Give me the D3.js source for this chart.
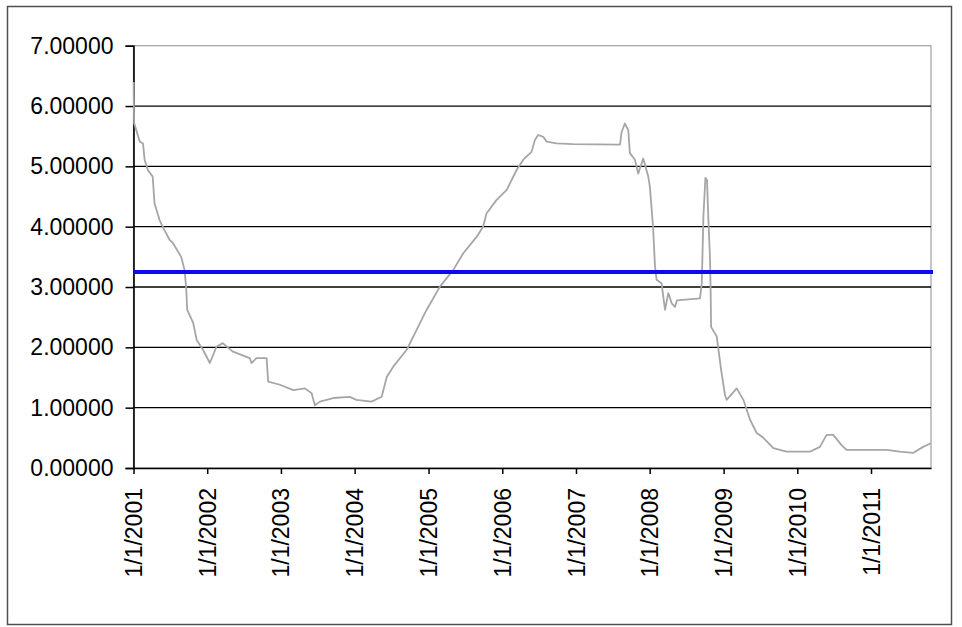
<!DOCTYPE html>
<html>
<head>
<meta charset="utf-8">
<script src="https://cdn.jsdelivr.net/npm/d3@7"></script>
<style>
  html, body { margin: 0; padding: 0; background: #fff; }
  svg { display: block; }
  text { font-family: Arial, "Liberation Sans", sans-serif; fill: #000; }
</style>
</head>
<body>
<svg id="chart" width="962" height="627"></svg>
<script>
// ---- data ----
const dates = [
  "2001-01-02","2001-01-03","2001-01-04","2001-02-01","2001-02-17","2001-02-25","2001-03-13","2001-04-06",
  "2001-04-15","2001-05-10","2001-06-04","2001-06-29","2001-07-15","2001-08-25","2001-09-11","2001-09-19",
  "2001-09-24","2001-10-24","2001-11-10","2001-12-11","2002-01-14","2002-02-16","2002-03-19","2002-05-08",
  "2002-07-31","2002-08-08","2002-09-02","2002-10-22","2002-10-30","2002-12-27","2003-03-03","2003-04-30",
  "2003-06-02","2003-06-18","2003-07-13","2003-09-17","2003-12-08","2004-01-10","2004-03-25","2004-05-14",
  "2004-06-08","2004-07-10","2004-09-15","2004-11-03","2004-12-22","2005-02-27","2005-05-03","2005-06-22",
  "2005-08-27","2005-09-28","2005-10-15","2005-12-03","2006-01-23","2006-03-13","2006-04-15","2006-05-26",
  "2006-06-12","2006-06-28","2006-07-23","2006-08-09","2006-09-27","2006-12-18","2007-08-07","2007-08-15",
  "2007-08-31","2007-09-17","2007-09-25","2007-10-20","2007-11-05","2007-11-30","2007-12-25","2008-01-02",
  "2008-01-18","2008-01-27","2008-02-04","2008-02-29","2008-03-17","2008-04-02","2008-04-19","2008-05-05",
  "2008-05-15","2008-09-06","2008-09-15","2008-09-23","2008-10-03","2008-10-11","2008-10-17","2008-10-26",
  "2008-10-29","2008-10-31","2008-11-28","2008-12-20","2009-01-08","2009-01-16","2009-03-07","2009-04-09",
  "2009-05-12","2009-06-14","2009-07-17","2009-09-04","2009-11-09","2010-03-04","2010-04-23","2010-05-26",
  "2010-06-28","2010-08-08","2010-09-02","2011-03-19","2011-05-24","2011-07-28","2011-09-16","2011-10-24"
];
const rates = [
  6.40,6.00,5.72,5.41,5.38,5.11,4.94,4.83,
  4.39,4.11,3.94,3.78,3.73,3.50,3.28,2.98,
  2.62,2.40,2.12,1.96,1.74,2.01,2.07,1.93,
  1.82,1.74,1.82,1.82,1.43,1.38,1.29,1.32,
  1.24,1.04,1.10,1.16,1.18,1.13,1.10,1.18,
  1.51,1.68,1.96,2.29,2.62,3.01,3.28,3.56,
  3.83,4.00,4.22,4.44,4.61,4.94,5.11,5.24,
  5.44,5.52,5.49,5.41,5.38,5.37,5.36,5.57,
  5.71,5.60,5.22,5.11,4.88,5.13,4.83,4.66,
  3.98,3.36,3.12,3.06,2.62,2.90,2.73,2.67,
  2.78,2.81,3.06,4.17,4.81,4.77,4.17,3.45,
  2.90,2.34,2.18,1.62,1.21,1.13,1.32,1.13,
  0.80,0.58,0.50,0.33,0.27,0.27,0.35,0.55,
  0.55,0.38,0.30,0.30,0.27,0.25,0.35,0.41
];
const thresholdValue = 3.25;
const yTicks = [0,1,2,3,4,5,6,7];
const xTickDates = ["2001-01-01","2002-01-01","2003-01-01","2004-01-01","2005-01-01","2006-01-01",
                    "2007-01-01","2008-01-01","2009-01-01","2010-01-01","2011-01-01"];
const xDomain = ["2001-01-01","2011-10-25"];

// ---- layout ----
const svg = d3.select("#chart");
const parse = d3.timeParse("%Y-%m-%d");
const fmt = d3.timeFormat("%-m/%-d/%Y");
const plotL = 133.5, plotR = 931, plotT = 45.7, plotB = 468;

const x = d3.scaleTime().domain(xDomain.map(parse)).range([plotL, plotR]);
const y = d3.scaleLinear().domain([0, 7]).range([plotB, plotT]);

// outer border
svg.append("rect").attr("x", 7.5).attr("y", 6.5).attr("width", 944).attr("height", 618)
  .attr("fill", "#fff").attr("stroke", "#505050").attr("stroke-width", 1.5);

// plot area border (top/right gray)
svg.append("rect").attr("x", plotL).attr("y", plotT).attr("width", plotR - plotL).attr("height", plotB - plotT)
  .attr("fill", "none").attr("stroke", "#a0a0a0").attr("stroke-width", 1.2);

// gridlines
svg.append("g").selectAll("line").data(yTicks.filter(d => d > 0 && d < 7)).join("line")
  .attr("x1", plotL).attr("x2", plotR)
  .attr("y1", d => y(d)).attr("y2", d => y(d))
  .attr("stroke", "#000").attr("stroke-width", 1.3);

// y axis
const yAxis = d3.axisLeft(y).tickValues(yTicks).tickFormat(d3.format(".5f")).tickSize(8).tickPadding(12);
const gy = svg.append("g").attr("transform", `translate(${plotL},0)`).call(yAxis);
gy.select(".domain").attr("stroke", "#000").attr("stroke-width", 1.6);
gy.selectAll(".tick line").attr("stroke", "#000").attr("stroke-width", 1.5);
gy.selectAll("text").style("font-size", "23px").attr("fill", "#000");

// x axis
const xAxis = d3.axisBottom(x).tickValues(xTickDates.map(parse)).tickFormat(fmt).tickSize(6).tickSizeOuter(0);
const gx = svg.append("g").attr("transform", `translate(0,${plotB})`).call(xAxis);
gx.select(".domain").attr("stroke", "#000").attr("stroke-width", 1.6);
gx.selectAll(".tick line").attr("stroke", "#000").attr("stroke-width", 1.5);
gx.selectAll("text")
  .style("font-size", "23px").attr("fill", "#000")
  .attr("text-anchor", "end")
  .attr("transform", "translate(0,20) rotate(-90)")
  .attr("x", 0).attr("y", 0).attr("dy", "0.35em");

// series
const data = dates.map((d, i) => ({ date: parse(d), value: rates[i] }));
const line = d3.line().x(d => x(d.date)).y(d => y(d.value));
svg.append("path").datum(data)
  .attr("d", line).attr("fill", "none")
  .attr("stroke", "#a6a6a6").attr("stroke-width", 1.8).attr("stroke-linejoin", "round");

// threshold line
svg.append("line")
  .attr("x1", plotL).attr("x2", plotR + 2)
  .attr("y1", y(thresholdValue)).attr("y2", y(thresholdValue))
  .attr("stroke", "#0a0af0").attr("stroke-width", 4);
</script>
</body>
</html>
